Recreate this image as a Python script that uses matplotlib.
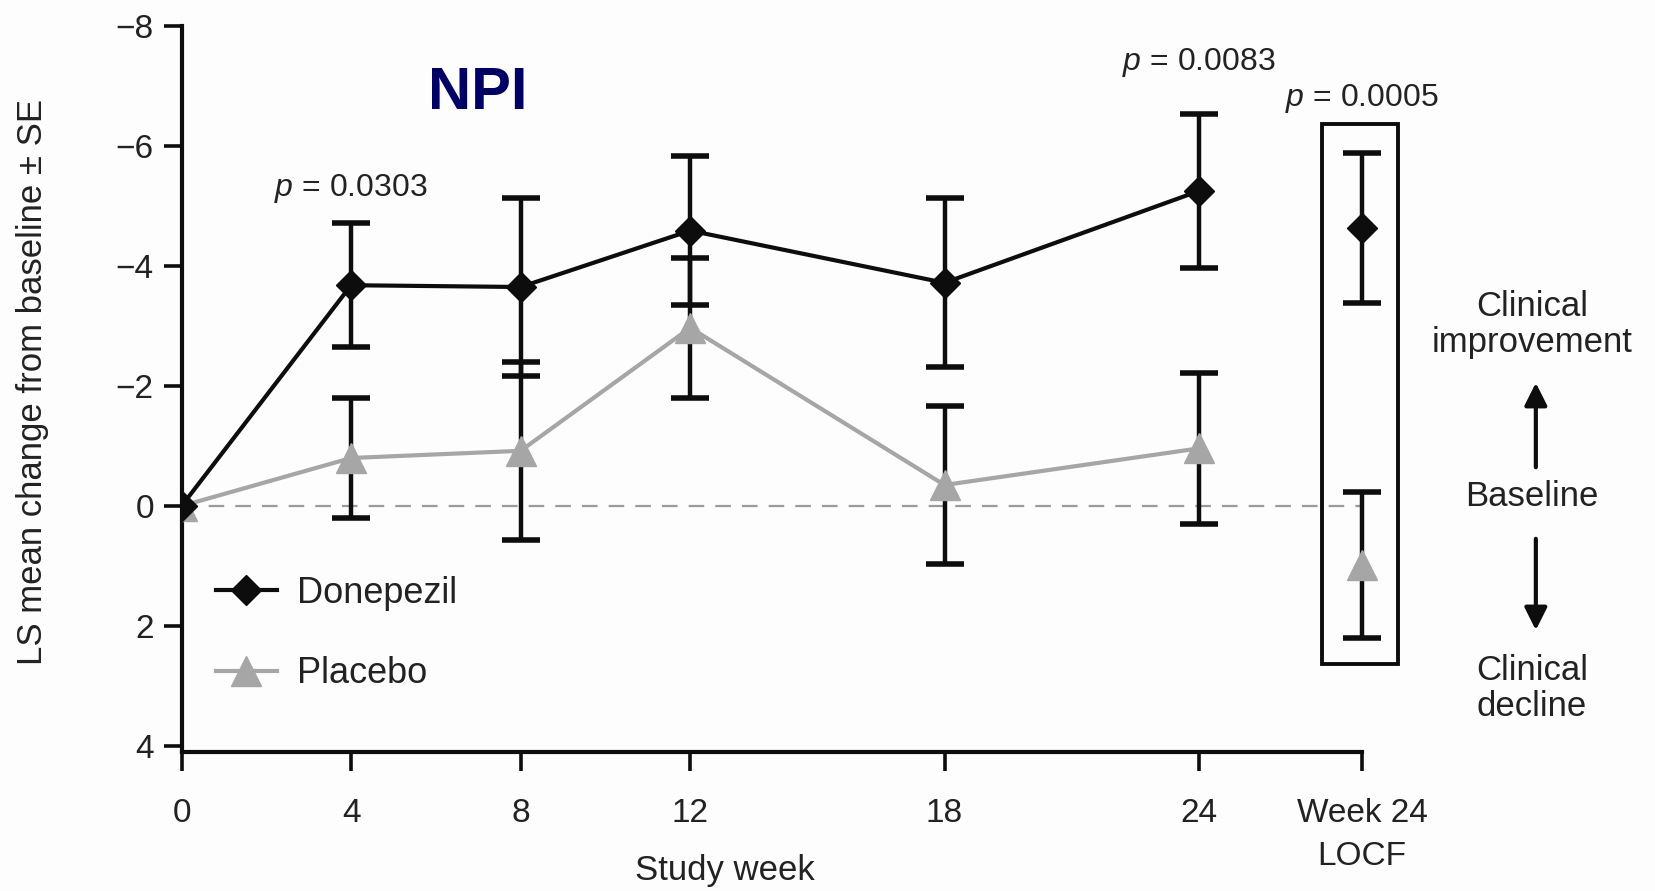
import matplotlib
matplotlib.use("Agg")
import matplotlib.pyplot as plt
from matplotlib.patches import Rectangle

plt.rcParams['font.family'] = ['Liberation Sans', 'DejaVu Sans']
plt.rcParams['mathtext.fontset'] = 'custom'
plt.rcParams['mathtext.it'] = 'Liberation Sans:italic'
plt.rcParams['mathtext.rm'] = 'Liberation Sans'

# Données (NPI, variation moyenne LS +/- SE)
weeks = [0, 4, 8, 12, 18, 24]
donepezil = [0, -3.68, -3.65, -4.59, -3.72, -5.25]
donepezil_se = [0, 1.03, 1.48, 1.24, 1.41, 1.29]
placebo = [0, -0.80, -0.92, -2.97, -0.35, -0.96]
placebo_se = [0, 1.00, 1.48, 1.17, 1.32, 1.26]

locf_x = 27.85
donepezil_locf, donepezil_locf_se = -4.63, 1.25
placebo_locf, placebo_locf_se = 0.98, 1.22

xtick_pos = [0, 4, 8, 12, 18, 24, locf_x]
xtick_labels = ['0', '4', '8', '12', '18', '24', 'Week 24\nLOCF']
yticks = [-8, -6, -4, -2, 0, 2, 4]

p_values = [(4, -5.3, '$p$ = 0.0303'), (24, -7.4, '$p$ = 0.0083'), (locf_x, -6.8, '$p$ = 0.0005')]

black = '#0d0d0d'
grey = '#a6a6a6'
txt_col = '#222222'

fig = plt.figure(figsize=(16.55, 8.91), dpi=100, facecolor='#fdfdfd')
ax = fig.add_axes([0.1097, 0.156, 0.7133, 0.8148])
ax.set_facecolor('#fdfdfd')

# ligne de base
ax.axhline(0, color='#9a9a9a', lw=1.6, dashes=(7, 5), zorder=1)

# barres d'erreur
err_kw = dict(fmt='none', ecolor=black, elinewidth=3.2, capsize=14, capthick=4, zorder=2)
ax.errorbar(weeks[1:], donepezil[1:], yerr=donepezil_se[1:], **err_kw)
ax.errorbar(weeks[1:], placebo[1:], yerr=placebo_se[1:], **err_kw)
for y, se in [(donepezil_locf, donepezil_locf_se), (placebo_locf, placebo_locf_se)]:
    eb = ax.errorbar([locf_x], [y], yerr=[se], **err_kw)
    for art in eb.lines[1] + eb.lines[2]:
        art.set_clip_on(False)

# courbes
pla, = ax.plot(weeks, placebo, color=grey, lw=3, marker='^', ms=22,
               mfc=grey, mec=grey, label='Placebo', zorder=3)
don, = ax.plot(weeks, donepezil, color=black, lw=3, marker='D', ms=15,
               mfc=black, mec=black, label='Donepezil', zorder=4)
ax.plot([locf_x], [placebo_locf], ls='none', marker='^', ms=22, mfc=grey, mec=grey,
        zorder=3, clip_on=False)
ax.plot([locf_x], [donepezil_locf], ls='none', marker='D', ms=15, mfc=black, mec=black,
        zorder=4, clip_on=False)

# cadre autour de LOCF
ax.add_patch(Rectangle((26.91, -6.37), 1.79, 9.01, fill=False, ec=black, lw=2.8, clip_on=False))

ax.set_xlim(0, locf_x)
ax.set_ylim(4.1, -8)
ax.set_xticks(xtick_pos)
ax.set_xticklabels(xtick_labels, linespacing=1.5)
ax.set_yticks(yticks)
for s in ['top', 'right']:
    ax.spines[s].set_visible(False)
for s in ['left', 'bottom']:
    ax.spines[s].set_linewidth(3)
    ax.spines[s].set_color(black)
ax.tick_params(axis='both', direction='out', width=2.6, color=black, labelsize=24, labelcolor=txt_col)
ax.tick_params(axis='y', length=13, pad=7)
ax.tick_params(axis='x', length=14, pad=19)

ax.set_xlabel('Study week', fontsize=25, color=txt_col)
ax.xaxis.set_label_coords(0.46, -0.14)
fig.text(0.0195, 0.571, 'LS mean change from baseline \u00b1 SE', rotation=90,
         fontsize=25, color=txt_col, ha='center', va='center')

for x, y, s in p_values:
    ax.text(x, y, s, fontsize=23, color=txt_col, ha='center', va='center')

fig.text(0.2888, 0.8956, 'NPI', fontsize=43, fontweight='bold', color='#000066',
         ha='center', va='center')

ax.legend(handles=[don, pla], loc='center left', bbox_to_anchor=(0.029, 0.163), frameon=False,
          fontsize=26, handlelength=1.7, handletextpad=0.55, labelspacing=1.25,
          borderaxespad=0, borderpad=0, labelcolor=txt_col)

# annotations à droite
txt_kw = dict(fontsize=25, color=txt_col, ha='center', va='center', linespacing=1.12)
fig.text(0.9257, 0.6358, 'Clinical\nimprovement', **txt_kw)
fig.text(0.9257, 0.4433, 'Baseline', **txt_kw)
fig.text(0.9257, 0.2273, 'Clinical\ndecline', **txt_kw)
arrow_kw = dict(arrowstyle='-|>', lw=3, mutation_scale=34, color=black)
ax.annotate('', xy=(0.928, 0.5735), xytext=(0.928, 0.4725), xycoords='figure fraction',
            textcoords='figure fraction', arrowprops=arrow_kw)
ax.annotate('', xy=(0.928, 0.2896), xytext=(0.928, 0.3984), xycoords='figure fraction',
            textcoords='figure fraction', arrowprops=arrow_kw)

fig.savefig('out.png', dpi=100, facecolor=fig.get_facecolor())
